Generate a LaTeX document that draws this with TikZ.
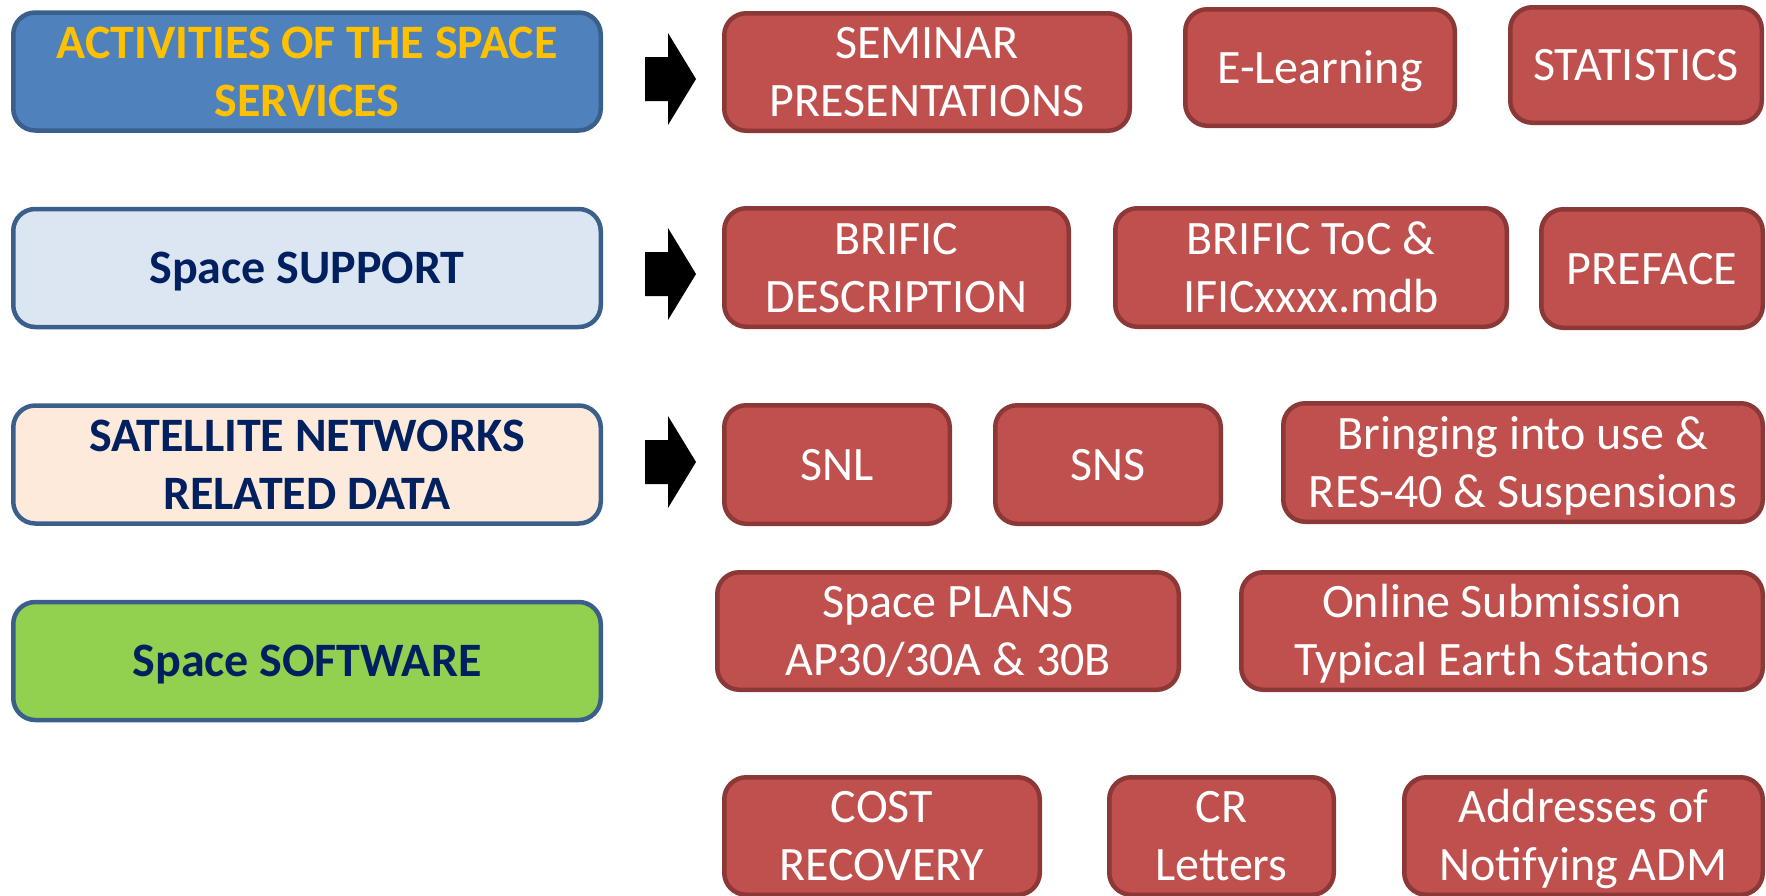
\documentclass[tikz,border=0pt]{standalone}
\usepackage{fontspec}
\setmainfont{Carlito}
\definecolor{bluefill}{HTML}{4F81BD}
\definecolor{blueline}{HTML}{3A5F8B}
\definecolor{lightblue}{HTML}{DCE6F2}
\definecolor{peach}{HTML}{FDEADA}
\definecolor{lgreen}{HTML}{92D050}
\definecolor{navy}{HTML}{002060}
\definecolor{gold}{HTML}{FFC000}
\definecolor{redfill}{HTML}{C0504D}
\definecolor{redline}{HTML}{8C3836}
\newcommand\topst{\rule{0pt}{43pt}}
\newcommand\botst{\rule[-12pt]{0pt}{0pt}}
\tikzset{
  base/.style={rounded corners=22pt, line width=4.5pt, inner sep=0pt, align=center},
  lbox/.style={base, draw=blueline, text=navy, minimum width=587.5pt, minimum height=118pt,
     font=\fontsize{48}{58}\selectfont\bfseries},
  rbox/.style={base, draw=redline, fill=redfill, text=white,
     font=\fontsize{48}{58}\selectfont},
  blockarrow/.style={fill=black, draw=none}
}
\begin{document}
\begin{tikzpicture}[x=1pt,y=-1pt]
\useasboundingbox (0,0) rectangle (1766,895);
\clip (0,0) rectangle (1766,895);
% left category boxes
\node[lbox, fill=bluefill, text=gold] (act) at (307,71.5) {\topst ACTIVITIES OF THE SPACE\\SERVICES\botst};
\node[lbox, fill=lightblue] (sup) at (307,268) {\topst Space SUPPORT\botst};
\node[lbox, fill=peach] (sat) at (307,464.5) {\topst SATELLITE NETWORKS\\RELATED DATA\botst};
\node[lbox, fill=lgreen] (soft) at (307,661) {\topst Space SOFTWARE\botst};
% row 1
\node[rbox, minimum width=405.5pt, minimum height=117.5pt] (sem) at (927,72) {\topst SEMINAR\\PRESENTATIONS\botst};
\node[rbox, minimum width=269.5pt, minimum height=116.5pt] (elearn) at (1320,67.5) {\topst E-Learning\botst};
\node[rbox, minimum width=251.5pt, minimum height=115.5pt] (stat) at (1636,65) {\topst STATISTICS\botst};
% row 2
\node[rbox, minimum width=344.5pt, minimum height=118.5pt] (bdesc) at (896.5,267.5) {\topst BRIFIC\\DESCRIPTION\botst};
\node[rbox, minimum width=391.5pt, minimum height=118.5pt] (btoc) at (1311,267.5) {\topst BRIFIC ToC \&\\IFICxxxx.mdb\botst};
\node[rbox, minimum width=221.5pt, minimum height=118.5pt] (pref) at (1652,268.5) {\topst PREFACE\botst};
% row 3
\node[rbox, minimum width=225.5pt, minimum height=118.5pt] (snl) at (837,464.5) {\topst SNL\botst};
\node[rbox, minimum width=225.5pt, minimum height=118.5pt] (sns) at (1108,464.5) {\topst SNS\botst};
\node[rbox, minimum width=479.5pt, minimum height=118.5pt] (bring) at (1523,462.5) {\topst Bringing into use \&\\RES-40 \& Suspensions\botst};
% row 4
\node[rbox, minimum width=461.5pt, minimum height=117.5pt] (plans) at (948,631) {\topst Space PLANS\\AP30/30A \& 30B\botst};
\node[rbox, minimum width=521.5pt, minimum height=117.5pt] (online) at (1502,631) {\topst Online Submission\\Typical Earth Stations\botst};
% row 5
\node[rbox, minimum width=315.5pt, minimum height=117.5pt] (cost) at (882,836) {\topst COST\\RECOVERY\botst};
\node[rbox, minimum width=224.5pt, minimum height=117.5pt] (cr) at (1221.5,836) {\topst CR\\Letters\botst};
\node[rbox, minimum width=358.5pt, minimum height=117.5pt] (addr) at (1583.5,836) {\topst Addresses of\\Notifying ADM\botst};
% block arrows
\foreach \cy in {79,274,462}{
  \fill[blockarrow] (645,\cy-22) -- (668,\cy-22) -- (668,\cy-46) -- (696,\cy) -- (668,\cy+46) -- (668,\cy+22) -- (645,\cy+22) -- cycle;
}
\end{tikzpicture}
\end{document}
